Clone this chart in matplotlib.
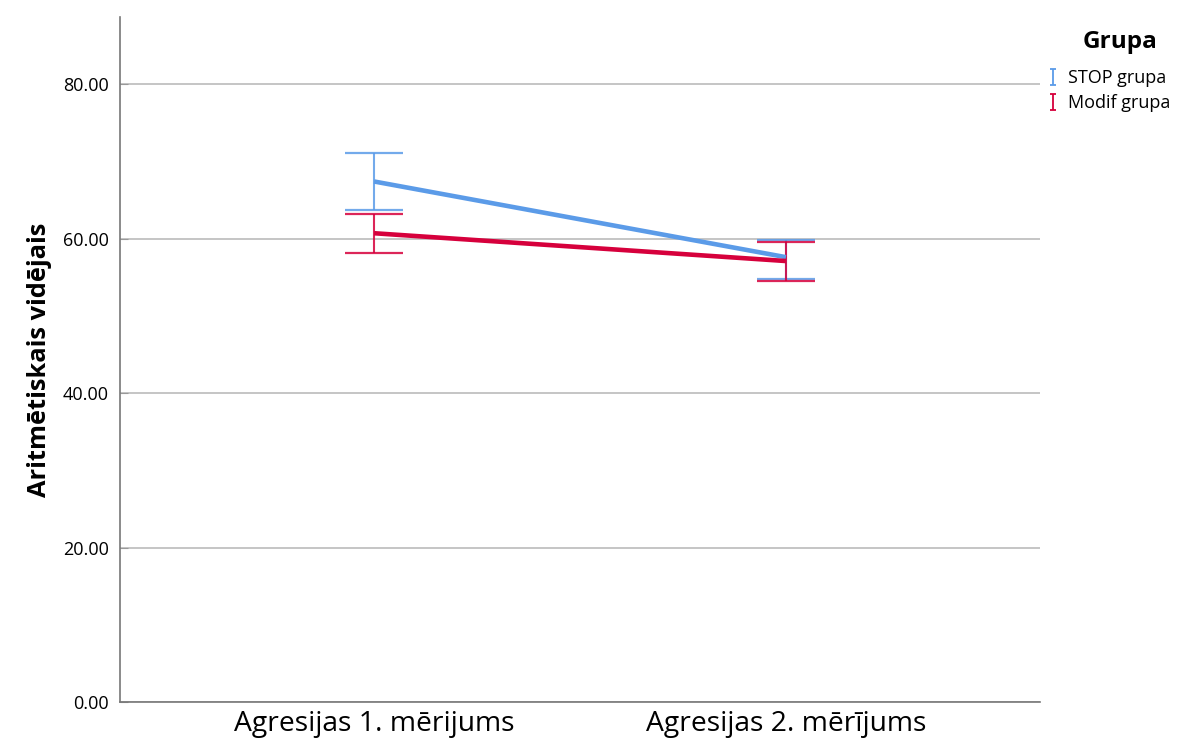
import matplotlib.pyplot as plt
from matplotlib.lines import Line2D
from matplotlib.path import Path

plt.rcParams['font.family'] = ['Open Sans', 'DejaVu Sans']

# data
categories = ["Agresijas 1. mērijums", "Agresijas 2. mērījums"]
groups = ["STOP grupa", "Modif grupa"]
stop_mean = [67.4, 57.6]
stop_low = [63.7, 54.8]
stop_high = [71.1, 59.8]
modif_mean = [60.7, 57.1]
modif_low = [58.1, 54.5]
modif_high = [63.2, 59.5]
y_ticks = [0, 20, 40, 60, 80]

blue = "#5b9be8"
red = "#d6003c"

fig = plt.figure(figsize=(11.97, 7.42), dpi=100)
ax = fig.add_axes([0.1003, 0.0539, 0.7685, 0.9232])

x = list(range(len(categories)))
series = [(stop_mean, stop_low, stop_high, blue),
          (modif_mean, modif_low, modif_high, red)]
for mean, low, high, col in series:
    err = [[m - l for m, l in zip(mean, low)], [h - m for m, h in zip(mean, high)]]
    ax.errorbar(x, mean, yerr=err, fmt='none', ecolor=col, elinewidth=1.5,
                capsize=21, capthick=1.6, alpha=0.85, zorder=3)
    ax.plot(x, mean, color=col, lw=3.3, zorder=4, solid_capstyle='butt')

ax.set_xlim(-0.617, 1.617)
ax.set_ylim(0, 88.7)
ax.set_xticks(x)
ax.set_xticklabels(categories, fontsize=20.3)
ax.set_yticks(y_ticks)
ax.set_yticklabels([f"{v:.2f}" for v in y_ticks], fontsize=13)
ax.tick_params(axis='x', length=0, pad=6)
ax.tick_params(axis='y', direction='in', length=6, color='#999999', pad=8)
ax.set_ylabel("Aritmētiskais vidējais", fontsize=18.3, fontweight='bold', labelpad=8)

ax.yaxis.grid(True, color='#bbbbbb', lw=1.2)
ax.set_axisbelow(True)
for s in ['top', 'right']:
    ax.spines[s].set_visible(False)
for s in ['left', 'bottom']:
    ax.spines[s].set_color('#777777')
    ax.spines[s].set_linewidth(1.2)

# I-shaped legend marker
ibeam = Path([(-0.45, 1), (0.45, 1), (0, 1), (0, -1), (-0.45, -1), (0.45, -1)],
             [Path.MOVETO, Path.LINETO, Path.MOVETO, Path.LINETO, Path.MOVETO, Path.LINETO])
handles = [Line2D([], [], ls='none', marker=ibeam, markersize=11, markeredgewidth=1.3,
                  markeredgecolor=c, markerfacecolor='none') for c in (blue, red)]
fig.legend(handles, groups, loc='upper left', bbox_to_anchor=(0.875, 0.907),
           frameon=False, fontsize=13, handlelength=0.6, handletextpad=0.55,
           labelspacing=0.4, borderaxespad=0, borderpad=0)
fig.text(0.936, 0.944, "Grupa", fontsize=17.5, fontweight='bold', ha='center', va='center')

fig.savefig("out.png", dpi=100)
